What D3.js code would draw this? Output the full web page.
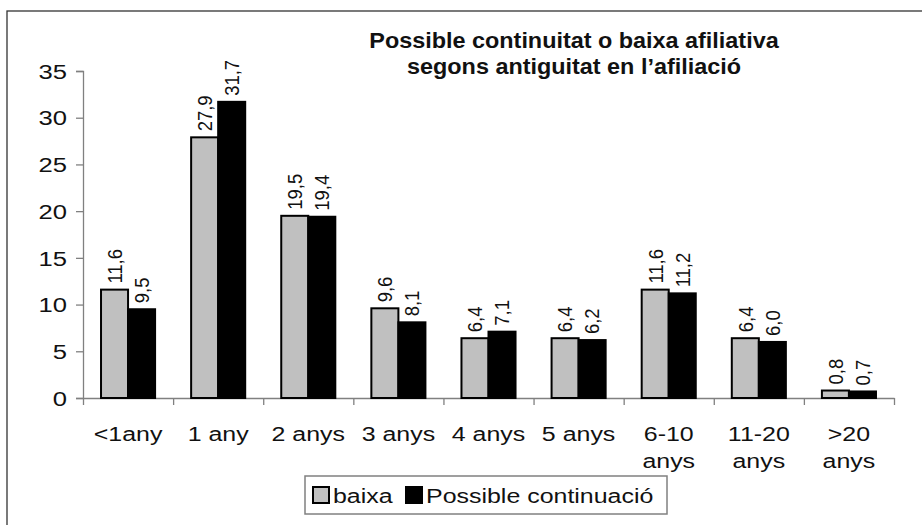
<!DOCTYPE html>
<html>
<head>
<meta charset="utf-8">
<script src="https://cdn.jsdelivr.net/npm/d3@7"></script>
<style>
  html, body { margin: 0; padding: 0; background: #fff; }
  svg { display: block; font-family: "Liberation Sans", Arial, sans-serif; }
</style>
</head>
<body>
<svg id="chart" width="922" height="525"></svg>
<script>
const categories = ["<1any", "1 any", "2 anys", "3 anys", "4 anys", "5 anys", "6-10 anys", "11-20 anys", ">20 anys"];
const categoryLines = [["<1any"], ["1 any"], ["2 anys"], ["3 anys"], ["4 anys"], ["5 anys"], ["6-10", "anys"], ["11-20", "anys"], [">20", "anys"]];
const seriesNames = ["baixa", "Possible continuació"];
const baixa = [11.6, 27.9, 19.5, 9.6, 6.4, 6.4, 11.6, 6.4, 0.8];
const continuacio = [9.5, 31.7, 19.4, 8.1, 7.1, 6.2, 11.2, 6.0, 0.7];
const yTicks = [0, 5, 10, 15, 20, 25, 30, 35];
const titleLines = ["Possible continuitat o baixa afiliativa", "segons antiguitat en l\u2019afiliació"];
const seriesColors = ["#c0c0c0", "#000000"];

(function () {
const SX = 1.28; // horizontal stretch of the original raster
const svg = d3.select("#chart");

// outer frame
svg.append("rect").attr("x", 7).attr("y", 11).attr("width", 1000).attr("height", 600)
  .attr("fill", "none").attr("stroke", "#333").attr("stroke-width", 1.3);

const pLeft = 83, pRight = 894, pTop = 71, pBottom = 398;
const y = d3.scaleLinear().domain([0, 35]).range([pBottom, pTop]);
const x0 = d3.scaleBand().domain(categories).range([pLeft, pRight]).paddingInner(0.4).paddingOuter(0.2);
const x1 = d3.scaleBand().domain(seriesNames).range([0, x0.bandwidth()]);
const xEdge = d3.scaleLinear().domain([0, categories.length]).range([pLeft, pRight]);

// y axis
const gy = svg.append("g").attr("transform", `translate(${pLeft},0)`)
  .call(d3.axisLeft(y).tickValues(yTicks).tickSizeOuter(0).tickSize(7).tickPadding(0));
gy.select(".domain").attr("stroke", "#808080").attr("stroke-width", 1.3);
gy.selectAll(".tick line").attr("stroke", "#808080").attr("stroke-width", 1.3);
gy.selectAll(".tick text").attr("font-size", 20).attr("fill", "#111")
  .attr("font-family", "Liberation Sans, Arial, sans-serif")
  .attr("transform", `scale(${SX},1)`).attr("x", -16 / SX).attr("dy", "0.36em");

// x axis (ticks at category boundaries)
const gx = svg.append("g").attr("transform", `translate(0,${pBottom})`)
  .call(d3.axisBottom(xEdge).tickValues(d3.range(categories.length + 1)).tickFormat("").tickSize(7).tickSizeOuter(0));
gx.select(".domain").attr("stroke", "#808080").attr("stroke-width", 1.3);
gx.selectAll(".tick line").attr("stroke", "#808080").attr("stroke-width", 1.3);

// bars
const rows = categories.map((c, i) => ({ cat: c, vals: [baixa[i], continuacio[i]] }));
const groups = svg.append("g").selectAll("g").data(rows).join("g")
  .attr("transform", d => `translate(${x0(d.cat)},0)`);
groups.selectAll("rect").data(d => d.vals.map((v, k) => ({ k, v }))).join("rect")
  .attr("x", d => x1(seriesNames[d.k]))
  .attr("y", d => y(d.v))
  .attr("width", x1.bandwidth())
  .attr("height", d => y(0) - y(d.v))
  .attr("fill", d => seriesColors[d.k])
  .attr("stroke", "#000").attr("stroke-width", 2);

// value labels (rotated)
groups.selectAll("text").data(d => d.vals.map((v, k) => ({ k, v }))).join("text")
  .attr("transform", d => `translate(${x1(seriesNames[d.k]) + x1.bandwidth() / 2},${y(d.v) - 6}) scale(1.1,1) rotate(-90)`)
  .attr("dy", "0.36em")
  .attr("font-size", 18.5).attr("fill", "#111")
  .text(d => d.v.toFixed(1).replace(".", ","));

// category labels
const cl = svg.append("g").selectAll("g").data(categories).join("g")
  .attr("transform", (d) => `translate(${x0(d) + x0.bandwidth() / 2},0)`);
cl.each(function(d, i) {
  d3.select(this).selectAll("text").data(categoryLines[i]).join("text")
    .attr("transform", (t, j) => `translate(0,${441 + j * 27}) scale(${SX},1)`)
    .attr("text-anchor", "middle").attr("font-size", 19.5).attr("fill", "#111")
    .text(t => t);
});

// title
svg.append("g").selectAll("text").data(titleLines).join("text")
  .attr("transform", (t, j) => `translate(574,${48 + j * 26}) scale(1.04,1)`)
  .attr("text-anchor", "middle").attr("font-size", 22.5).attr("font-weight", "bold").attr("fill", "#111")
  .text(t => t);

// legend
const lg = svg.append("g");
lg.append("rect").attr("x", 305).attr("y", 476).attr("width", 362).attr("height", 38)
  .attr("fill", "#fff").attr("stroke", "#808080").attr("stroke-width", 1.5);
const legendX = [313, 406];
seriesNames.forEach((s, k) => {
  lg.append("rect").attr("x", legendX[k]).attr("y", 487).attr("width", 16).attr("height", 16)
    .attr("fill", seriesColors[k]).attr("stroke", "#000").attr("stroke-width", 2);
  lg.append("text").attr("transform", `translate(${legendX[k] + 20},503) scale(${SX},1)`)
    .attr("font-size", 19.5).attr("fill", "#111").text(s);
});
})();
</script>
</body>
</html>
